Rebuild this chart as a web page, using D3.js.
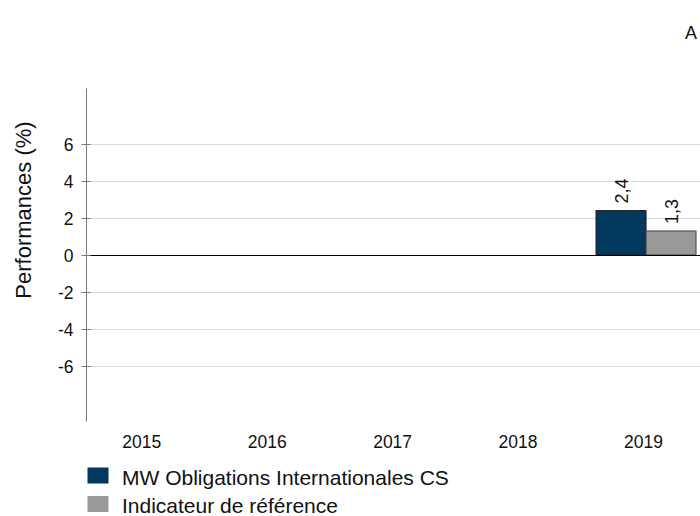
<!DOCTYPE html>
<html><head><meta charset="utf-8">
<script src="https://cdn.jsdelivr.net/npm/d3@7"></script>
<style>body{margin:0;background:#fff}svg{display:block;font-family:Arial,"Liberation Sans",sans-serif}</style>
</head><body>
<svg id="c" width="700" height="516"></svg>
<script>
const categories = ["2015","2016","2017","2018","2019"];
const seriesNames = ["MW Obligations Internationales CS","Indicateur de référence"];
const fundValues = [null,null,null,null,2.4];
const benchValues = [null,null,null,null,1.3];
const yTicks = [-6,-4,-2,0,2,4,6];
const colors = ["#013A5E","#999999"];
const strokes = ["#1a1a1a","#444444"];

const svg = d3.select("#c");
const axisX = 86.5;
const y = d3.scaleLinear().domain([-9,9]).range([421.5,88.5]);
const x = d3.scaleBand().domain(categories).range([79,706.25]).paddingInner(0).paddingOuter(0);
const xs = d3.scaleBand().domain([0,1]).range([0,100]);

// gridlines
svg.append("g").selectAll("line").data(yTicks.filter(d=>d!==0)).join("line")
  .attr("x1",axisX).attr("x2",700).attr("y1",d=>Math.round(y(d))+0.5).attr("y2",d=>Math.round(y(d))+0.5)
  .attr("stroke","#d9d9d9").attr("stroke-width",1);

// bars
const data = categories.map((c,i)=>({c, vals:[fundValues[i],benchValues[i]]}));
const groups = svg.append("g").selectAll("g").data(data).join("g")
  .attr("transform",d=>`translate(${x(d.c)+x.bandwidth()/2-50+2.5},0)`);
groups.selectAll("rect").data(d=>d.vals.map((v,k)=>({v,k})).filter(e=>e.v!=null)).join("rect")
  .attr("x",e=>xs(e.k)).attr("width",xs.bandwidth())
  .attr("y",e=>y(Math.max(0,e.v))).attr("height",e=>Math.abs(y(e.v)-y(0)))
  .attr("fill",e=>colors[e.k]).attr("stroke",e=>strokes[e.k]).attr("stroke-width",1);
groups.selectAll("text").data(d=>d.vals.map((v,k)=>({v,k})).filter(e=>e.v!=null)).join("text")
  .attr("transform",e=>`translate(${xs(e.k)+xs.bandwidth()/2+6.5},${y(e.v)-7}) rotate(-90)`)
  .attr("font-size",18).attr("fill","#111").attr("text-anchor","start")
  .text(e=>d3.format(".1f")(e.v).replace(".",","));

// zero line
svg.append("line").attr("x1",axisX).attr("x2",700).attr("y1",Math.round(y(0))+0.5).attr("y2",Math.round(y(0))+0.5)
  .attr("stroke","#000").attr("stroke-width",1);

// y axis
const ya = svg.append("g").attr("transform",`translate(${axisX},0)`)
  .call(d3.axisLeft(y).tickValues(yTicks).tickSize(5).tickPadding(13).tickFormat(d=>d));
ya.select(".domain").attr("stroke","#777").attr("d",`M0,${y(9)}V${y(-9)}`);
ya.selectAll(".tick line").attr("stroke","#777").attr("x1",4);
ya.selectAll(".tick text").attr("font-size",17.5).attr("fill","#111").attr("font-family","Arial,'Liberation Sans',sans-serif").attr("x",-13).attr("dy","0.36em");

// x labels
svg.append("g").selectAll("text").data(categories).join("text")
  .attr("x",d=>x(d)+x.bandwidth()/2).attr("y",448).attr("text-anchor","middle")
  .attr("font-size",17.5).attr("fill","#111").text(d=>d);

// y title
svg.append("text").attr("transform","translate(31,210) rotate(-90)").attr("text-anchor","middle")
  .attr("font-size",22).attr("fill","#111").text("Performances (%)");

// legend
const lg = svg.append("g").selectAll("g").data(seriesNames).join("g")
  .attr("transform",(d,i)=>`translate(87.5,${467.5+i*28.5})`);
lg.append("rect").attr("width",21).attr("height",16).attr("fill",(d,i)=>colors[i]);
lg.append("text").attr("x",34.5).attr("y",17).attr("font-size",21).attr("fill","#111").text(d=>d);

// top right
svg.append("text").attr("x",685).attr("y",38.5).attr("font-size",18).attr("fill","#111").text("A");
</script>
</body></html>
